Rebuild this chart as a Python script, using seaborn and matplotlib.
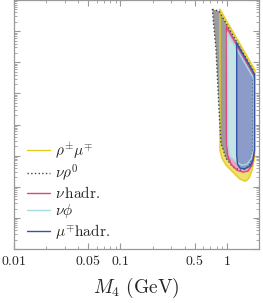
import numpy as np
import matplotlib
matplotlib.use("Agg")
import matplotlib.pyplot as plt
import matplotlib.ticker as mticker
import seaborn as sns

# region outlines: mass M4 (GeV) and mixing (arbitrary log units)
rho_mu_m = [0.859, 1.832, 1.832, 1.794, 1.718, 1.610, 1.541, 1.476, 1.324, 1.138, 0.979, 0.898, 0.859]
rho_mu_u = [0.502, 5.6e-3, 1.5e-5, 7.2e-6, 3.4e-6, 1.9e-6, 1.63e-6, 1.51e-6, 1.76e-6, 2.95e-6, 4.95e-6, 8.3e-6, 1.5e-5]

nu_rho_m = [0.728, 0.841, 1.754, 1.754, 1.644, 1.476, 1.324, 1.138, 0.979, 0.879, 0.851, 0.789]
nu_rho_u = [0.502, 0.443, 5.6e-3, 1.5e-5, 5.3e-6, 3.7e-6, 3.4e-6, 4.3e-6, 8.3e-6, 2.5e-5, 1.4e-4, 2.5e-2]

nu_hadr_m = [0.989, 1.794, 1.794, 1.718, 1.574, 1.413, 1.241, 1.091, 1.011, 0.989]
nu_hadr_u = [0.135, 3.9e-3, 1.04e-5, 4.95e-6, 3.2e-6, 2.95e-6, 3.42e-6, 5.33e-6, 1.04e-5, 3.15e-5]

nu_phi_m = [1.011, 1.774, 1.774, 1.680, 1.541, 1.383, 1.216, 1.067, 1.021]
nu_phi_u = [0.087, 3.1e-3, 1.5e-5, 7.7e-6, 5.33e-6, 4.95e-6, 6.18e-6, 9.64e-6, 2.18e-5]

mu_hadr_m = [1.233, 1.812, 1.812, 1.754, 1.644, 1.476, 1.324, 1.255, 1.233]
mu_hadr_u = [0.0414, 4.2e-3, 1.5e-5, 7.2e-6, 4.6e-6, 3.8e-6, 3.96e-6, 5.33e-6, 1.04e-5]

labels = [r"$\rho^{\pm}\mu^{\mp}$", r"$\nu\rho^{0}$", r"$\nu\,\mathrm{hadr.}$",
          r"$\nu\phi$", r"$\mu^{\mp}\mathrm{hadr.}$"]
xtick_vals = [0.01, 0.05, 0.1, 0.5, 1]
xtick_labels = ["0.01", "0.05", "0.1", "0.5", "1"]

sns.set_style("ticks")
plt.rcParams["mathtext.fontset"] = "cm"
plt.rcParams["font.family"] = ["DejaVu Serif"]

regions = [
    (rho_mu_m, rho_mu_u, "#f0e06a", "#e6cc1e", "-"),
    (nu_rho_m, nu_rho_u, "#9c9c9c", "#444444", ":"),
    (nu_hadr_m, nu_hadr_u, "#e8a6bf", "#e0457f", "-"),
    (nu_phi_m, nu_phi_u, "#c6e4e8", "#a6dbe0", "-"),
    (mu_hadr_m, mu_hadr_u, "#8b9bca", "#3552a3", "-"),
]

fig = plt.figure(figsize=(2.63, 3.03), dpi=100)
ax = fig.add_axes([0.053, 0.178, 0.932, 0.822])

for (m, u, fc, ec, ls), lab in zip(regions, labels):
    ax.fill(m, u, color=fc, lw=0)
    sns.lineplot(x=m + [m[0]], y=u + [u[0]], sort=False, ax=ax, color=ec,
                 lw=1.0, ls=ls, label=lab, estimator=None)

ax.set_xscale("log")
ax.set_yscale("log")
ax.set_xlim(0.01, 2)
ax.set_ylim(1e-8, 1)

ax.xaxis.set_major_locator(mticker.FixedLocator(xtick_vals))
ax.set_xticklabels([f"${t}$" for t in xtick_labels], fontsize=10)
ax.xaxis.set_minor_locator(mticker.LogLocator(base=10, subs=np.arange(2, 10)))
ax.xaxis.set_minor_formatter(mticker.NullFormatter())
ax.yaxis.set_major_locator(mticker.LogLocator(base=10, numticks=20))
ax.yaxis.set_minor_locator(mticker.LogLocator(base=10, subs=np.arange(2, 10), numticks=20))
ax.yaxis.set_major_formatter(mticker.NullFormatter())
ax.yaxis.set_minor_formatter(mticker.NullFormatter())

ax.tick_params(which="both", direction="in", top=True, right=True, color="#999999")
ax.tick_params(which="major", length=4, width=0.8)
ax.tick_params(which="minor", length=2, width=0.6)
for s in ax.spines.values():
    s.set_color("#999999")
    s.set_linewidth(0.9)

ax.set_xlabel(r"$M_4\ \mathrm{(GeV)}$", fontsize=14, labelpad=6)
ax.set_ylabel("")

ax.legend(loc="lower left", bbox_to_anchor=(0.03, 0.008), frameon=False, fontsize=11,
          handlelength=1.5, handletextpad=0.3, labelspacing=0.1, borderaxespad=0)

fig.savefig("out.png", dpi=100)
